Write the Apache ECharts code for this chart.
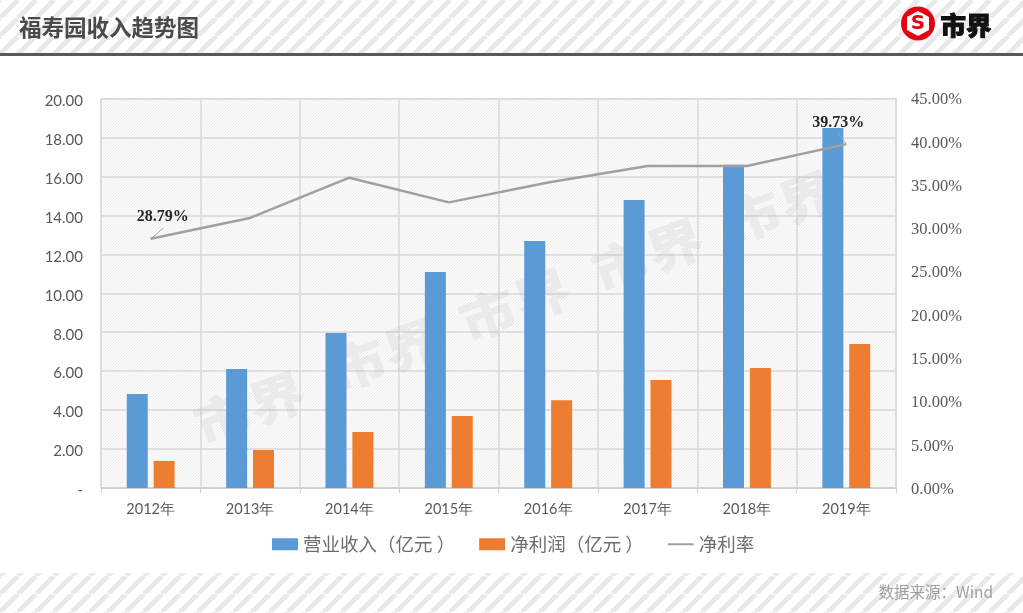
<!DOCTYPE html>
<html>
<head>
<meta charset="utf-8">
<title>福寿园收入趋势图</title>
<style>
  html, body { margin: 0; padding: 0; background: #fff; }
  #main { width: 1023px; height: 613px; }
</style>
<script src="https://cdn.jsdelivr.net/npm/echarts@6/dist/echarts.min.js"></script>
</head>
<body>
<div id="main"></div>
<script>
var years = ["2012年", "2013年", "2014年", "2015年", "2016年", "2017年", "2018年", "2019年"];
var revenue = [4.83, 6.11, 7.96, 11.09, 12.68, 14.79, 16.6, 18.49];
var profit = [1.39, 1.95, 2.88, 3.7, 4.5, 5.55, 6.16, 7.39];
var margin = [28.79, 31.2, 35.85, 33.0, 35.3, 37.2, 37.2, 39.73];
// 标签偏移 dx, dy 和引线终点偏移
var labelled = { 0: [12, -14, 13, -11], 7: [-8, -13, -8, -11] };

// 斜条纹背景
function stripes(size, lineWidth, bg, fg) {
  var c = document.createElement("canvas");
  c.width = size;
  c.height = size;
  var ctx = c.getContext("2d");
  ctx.fillStyle = bg;
  ctx.fillRect(0, 0, size, size);
  ctx.strokeStyle = fg;
  ctx.lineWidth = lineWidth;
  for (var i = -size; i <= size * 2; i += size) {
    ctx.beginPath();
    ctx.moveTo(i, size);
    ctx.lineTo(i + size, 0);
    ctx.stroke();
  }
  return { image: c, repeat: "repeat" };
}

var bandFill = stripes(18, 5, "#ffffff", "#e9e9e9");
var plotFill = stripes(3, 1, "#fbfbfb", "#eeeeee");

var watermarks = [[250, 408], [385, 355], [515, 305], [648, 255], [780, 207]].map(function (w) {
  return {
    type: "text",
    x: w[0],
    y: w[1],
    rotation: (20 * Math.PI) / 180,
    scaleX: 1.15,
    z: 1,
    style: {
      text: "市界",
      fill: "rgba(150,150,150,0.12)",
      font: '900 50px "Noto Sans CJK SC"',
      align: "center",
      verticalAlign: "middle",
    },
  };
});

var chart = echarts.init(document.getElementById("main"));
chart.setOption({
  animation: false,
  backgroundColor: "#fff",
  textStyle: { fontFamily: '"Noto Sans CJK SC"' },
  grid: {
    left: 101,
    right: 127,
    top: 98.5,
    bottom: 125,
    show: true,
    backgroundColor: plotFill,
    borderColor: "#d9d9d9",
    borderWidth: 1,
  },
  legend: {
    top: 530,
    left: 267,
    itemGap: 24,
    itemWidth: 26,
    itemHeight: 12,
    textStyle: { fontSize: 18.5, color: "#6e6e6e" },
    data: [
      { name: "营业收入（亿元 ）", icon: "rect" },
      { name: "净利润（亿元 ）", icon: "rect" },
      { name: "净利率", icon: "path://M0 0H26V2H0Z" },
    ],
  },
  xAxis: {
    type: "category",
    data: years,
    axisLine: { lineStyle: { color: "#d0d0d0", width: 1.5 } },
    axisTick: { show: true, length: 5, lineStyle: { color: "#d0d0d0" } },
    axisLabel: { fontFamily: "Lato", fontSize: 14.5, color: "#595959", margin: 14 },
    splitLine: { show: true, lineStyle: { color: "#d9d9d9", width: 1.5 } },
  },
  yAxis: [
    {
      type: "value",
      min: 0,
      max: 20,
      interval: 2,
      axisLine: { show: false },
      axisTick: { show: false },
      axisLabel: {
        fontFamily: "Lato",
        fontSize: 15,
        color: "#595959",
        margin: 18,
        verticalAlign: "top",
        lineHeight: 5,
        formatter: function (v) {
          return v === 0 ? "-" : v.toFixed(2);
        },
      },
      splitLine: { show: true, lineStyle: { color: "#d9d9d9", width: 1.5 } },
    },
    {
      type: "value",
      min: 0,
      max: 45,
      interval: 5,
      axisLine: { show: false },
      axisTick: { show: false },
      axisLabel: {
        fontFamily: "Liberation Serif",
        fontSize: 16.5,
        color: "#595959",
        margin: 15,
        verticalAlign: "top",
        lineHeight: 3,
        formatter: function (v) {
          return v.toFixed(2) + "%";
        },
      },
      splitLine: { show: false },
    },
  ],
  series: [
    {
      name: "营业收入（亿元 ）",
      type: "bar",
      data: revenue,
      barWidth: 21,
      barGap: "28%",
      z: 3,
      itemStyle: { color: "#5b9bd5" },
    },
    {
      name: "净利润（亿元 ）",
      type: "bar",
      data: profit,
      barWidth: 21,
      z: 3,
      itemStyle: { color: "#ed7d31" },
    },
    {
      name: "净利率",
      type: "line",
      yAxisIndex: 1,
      data: margin.map(function (v, i) {
        if (!labelled[i]) return v;
        return { value: v, label: { show: true } };
      }),
      symbol: "circle",
      symbolSize: 0,
      z: 4,
      itemStyle: { color: "#a0a0a0" },
      lineStyle: { color: "#a0a0a0", width: 2.5 },
      label: {
        show: false,
        position: "top",
        distance: 0,
        fontFamily: "Liberation Serif",
        fontWeight: "bold",
        fontSize: 16,
        color: "#262626",
        formatter: function (p) {
          return margin[p.dataIndex].toFixed(2) + "%";
        },
      },
      labelLayout: function (p) {
        var off = labelled[p.dataIndex];
        return off ? { dx: off[0], dy: off[1] } : {};
      },
    },
    {
      // 数据标签引线
      name: "引线",
      type: "custom",
      yAxisIndex: 1,
      z: 4,
      silent: true,
      data: Object.keys(labelled).map(function (i) {
        return [Number(i), margin[i]];
      }),
      renderItem: function (params, api) {
        var p = api.coord([api.value(0), api.value(1)]);
        var off = labelled[api.value(0)];
        return {
          type: "line",
          shape: { x1: p[0], y1: p[1], x2: p[0] + off[2], y2: p[1] + off[3] },
          style: { stroke: "#a5a5a5", lineWidth: 1 },
        };
      },
    },
  ],
  graphic: [
    { type: "rect", shape: { x: 0, y: 0, width: 1023, height: 53 }, style: { fill: bandFill }, z: 0 },
    { type: "rect", shape: { x: 0, y: 53, width: 1023, height: 3 }, style: { fill: "#595959" }, z: 0 },
    { type: "rect", shape: { x: 0, y: 573, width: 1023, height: 40 }, style: { fill: bandFill }, z: 0 },
    {
      type: "text",
      x: 19,
      y: 27,
      z: 5,
      style: { text: "福寿园收入趋势图", fill: "#4a4a4a", font: 'bold 22.5px "Noto Sans CJK SC"', verticalAlign: "middle" },
    },
    {
      type: "text",
      x: 993,
      y: 592,
      z: 5,
      style: { text: "数据来源：Wind", fill: "#a0a0a0", font: '15.5px "Noto Sans CJK SC"', align: "right", verticalAlign: "middle" },
    },
    // 市界 logo
    { type: "circle", shape: { cx: 918, cy: 23.5, r: 17 }, style: { fill: "#e60012" }, z: 5 },
    {
      type: "polygon",
      shape: { points: [[918, 11], [929, 17], [929, 30], [918, 36], [907, 30], [907, 17]] },
      style: { fill: "#fff" },
      z: 6,
    },
    {
      type: "text",
      x: 918,
      y: 23.5,
      z: 7,
      style: { text: "S", fill: "#e60012", font: 'bold 20px "DejaVu Sans"', align: "center", verticalAlign: "middle" },
    },
    {
      type: "text",
      x: 966,
      y: 25,
      z: 5,
      style: { text: "市界", fill: "#111", stroke: "#111", lineWidth: 1, font: '900 25.5px "Noto Sans CJK SC"', align: "center", verticalAlign: "middle" },
    },
  ].concat(watermarks),
});
</script>
</body>
</html>
